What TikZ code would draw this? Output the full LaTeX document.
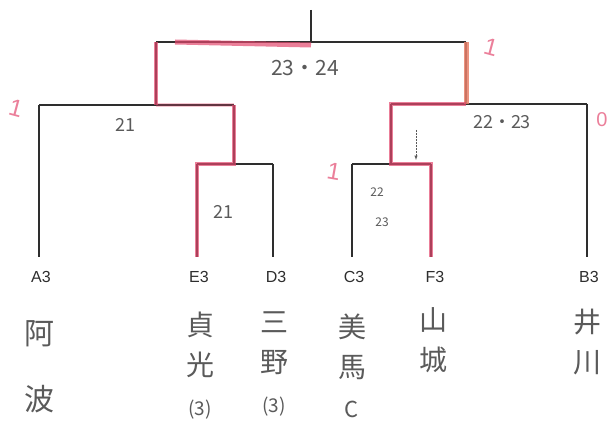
\documentclass[tikz,border=0pt]{standalone}
\usepackage{fontspec}
\setsansfont{Liberation Sans}
\newfontfamily\jp{Noto Sans CJK JP}
\definecolor{ink}{HTML}{2E2E2E}
\definecolor{pen}{HTML}{5A5A5A}
\definecolor{marker}{HTML}{E2486E}
\definecolor{markero}{HTML}{E8806A}
\tikzset{
  bline/.style={draw=ink, line width=1.4pt},
  win/.style={draw=marker, line width=3.5pt, opacity=0.7},
  wino/.style={draw=markero, line width=5pt, opacity=0.85},
  lab/.style={font=\sffamily\fontsize{16}{16}\selectfont, text=ink, inner sep=0pt},
  score/.style={font=\jp\fontsize{21}{21}\selectfont, text=pen, inner sep=0pt},
  smallscore/.style={font=\jp\fontsize{12}{12}\selectfont, text=pen, inner sep=0pt},
  jname/.style={font=\jp\fontsize{28}{40}\selectfont, text=pen, inner sep=0pt, align=center},
  tally/.style={font=\sffamily\fontsize{24}{24}\selectfont, text=marker!70, inner sep=0pt}
}
\begin{document}
\begin{tikzpicture}[x=1pt,y=-1pt]
\useasboundingbox (0,0) rectangle (611,427);
% junction coordinates
\coordinate (rt) at (311,10);
\coordinate (r) at (311,42);
\coordinate (l1) at (156,42);
\coordinate (r1) at (466,42);
\coordinate (l2) at (156,105);
\coordinate (r2) at (466,104);
\coordinate (atop) at (39,105);
\coordinate (ej) at (234,105);
\coordinate (ej2) at (234,164);
\coordinate (etop) at (197,164);
\coordinate (dtop) at (273,164);
\coordinate (btop) at (587,104);
\coordinate (cj) at (391,104);
\coordinate (cj2) at (391,164);
\coordinate (ctop) at (352,164);
\coordinate (ftop) at (431,164);
\coordinate (a) at (39,257);
\coordinate (e) at (197,257);
\coordinate (d) at (273,257);
\coordinate (c) at (352,257);
\coordinate (f) at (431,257);
\coordinate (b) at (587,257);
\coordinate (rm) at (175,41);
\coordinate (dm1) at (416,130);
\coordinate (dm2) at (416,160);
% bracket lines
\draw[bline] (rt) -- (r);
\draw[bline] (l1) -- (r1);
\draw[bline] (l1) -- (l2);
\draw[bline] (r1) -- (r2);
\draw[bline] (atop) -- (ej);
\draw[bline] (atop) -- (a);
\draw[bline] (ej) -- (ej2);
\draw[bline] (etop) -- (dtop);
\draw[bline] (etop) -- (e);
\draw[bline] (dtop) -- (d);
\draw[bline] (cj) -- (btop);
\draw[bline] (btop) -- (b);
\draw[bline] (cj) -- (cj2);
\draw[bline] (ctop) -- (ftop);
\draw[bline] (ctop) -- (c);
\draw[bline] (ftop) -- (f);
\draw[draw=pen, line width=0.5pt, densely dotted, -latex] (dm1) -- (dm2);
% winner highlights
\draw[win, line width=5pt] ([yshift=-1pt]rm) -- ([yshift=-3pt]r);
\draw[win] (l1) -- (l2);
\draw[win, opacity=0.3] (l2) -- (ej);
\draw[win] (ej) -- (ej2) -- (etop) -- (e);
\draw[wino] (r1) -- (r2);
\draw[win] (r2) -- (cj) -- (cj2) -- (ftop) -- (f);
% team labels
\node[lab] (la) at (41,277) {A3};
\node[lab] (le) at (199,277) {E3};
\node[lab] (ld) at (276,277) {D3};
\node[lab] (lc) at (354,277) {C3};
\node[lab] (lf) at (435,277) {F3};
\node[lab] (lb) at (589,277) {B3};
% names
\node[jname, font=\jp\fontsize{30}{66}\selectfont] (na) at (39,367) {阿\\波};
\node[jname] (ne) at (200,366) {貞\\光\\{\fontsize{19}{19}\selectfont (3)}};
\node[jname] (nd) at (274,364) {三\\野\\{\fontsize{19}{19}\selectfont (3)}};
\node[jname] (nc) at (352,366) {美\\馬\\{\fontsize{22}{22}\selectfont C}};
\node[jname] (nf) at (433,340) {山\\城};
\node[jname] (nb) at (587,342) {井\\川};
% scores
\node[score] (s1) at (305,68) {23・24};
\node[score, font=\jp\fontsize{18}{18}\selectfont] (s2) at (125,125) {21};
\node[score, font=\jp\fontsize{18}{18}\selectfont] (s3) at (223,212) {21};
\node[score, font=\jp\fontsize{18}{18}\selectfont] (s4) at (502,122) {22・23};
\node[smallscore] (s5) at (377,192) {22};
\node[smallscore] (s6) at (382,222) {23};
% tallies
\node[tally, rotate=-15] (t1) at (16,108) {1};
\node[tally, rotate=-15] (t2) at (491,47) {1};
\node[tally, rotate=-10] (t3) at (334,172) {1};
\node[tally, font=\sffamily\fontsize{20}{20}\selectfont] (t4) at (602,120) {0};
\end{tikzpicture}
\end{document}
